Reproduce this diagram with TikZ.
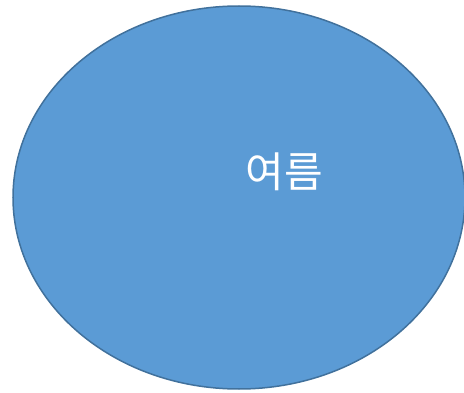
\documentclass[tikz,border=0pt]{standalone}
\usepackage{fontspec}
\newfontfamily\krfont{Noto Sans CJK KR}
\usetikzlibrary{positioning, shapes.geometric}
\definecolor{blobfill}{HTML}{5B9BD5}
\definecolor{blobline}{HTML}{41719C}
\tikzset{blob/.style={ellipse, draw=blobline, fill=blobfill, line width=1.5pt, minimum width=452pt, minimum height=383pt, inner sep=0pt}}
\tikzset{blobtext/.style={text=white, font=\krfont\fontsize{42}{48}\selectfont, inner sep=0pt}}

\begin{document}
\begin{tikzpicture}[x=1pt, y=1pt]
	\useasboundingbox (0,0) rectangle (464,392);
	\node[blob] (summer) at (239,194.5) {};
	\node[blobtext] (word) at (284,220) {여름};
\end{tikzpicture}
\end{document}
